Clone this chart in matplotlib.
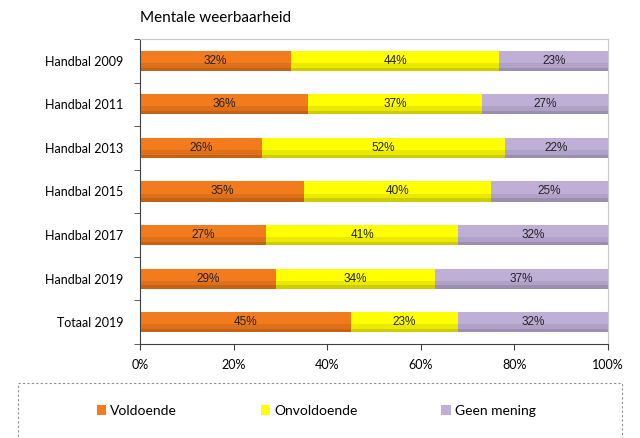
import numpy as np
import matplotlib
matplotlib.use("Agg")
import matplotlib.pyplot as plt
from matplotlib.patches import Rectangle
from matplotlib.ticker import FixedLocator, PercentFormatter

categories = ["Handbal 2009", "Handbal 2011", "Handbal 2013", "Handbal 2015",
              "Handbal 2017", "Handbal 2019", "Totaal 2019"]
voldoende = [32, 36, 26, 35, 27, 29, 45]
onvoldoende = [44, 37, 52, 40, 41, 34, 23]
geen_mening = [23, 27, 22, 25, 32, 37, 32]

series_names = ["Voldoende", "Onvoldoende", "Geen mening"]
colors = ["#F27B1E", "#FFFF00", "#BFAFD6"]
edge_dark = ["#8A4208", "#8C8C00", "#6E6480"]

plt.rcParams["font.family"] = ["Lato", "DejaVu Sans"]

fig = plt.figure(figsize=(6.4, 4.38), dpi=100)
ax = fig.add_axes([140 / 640, 1 - 344 / 438, 468 / 640, 305 / 438])

vals = np.array([voldoende, onvoldoende, geen_mening], dtype=float)
totals = vals.sum(axis=0)
fracs = vals / totals * 100

y = np.arange(len(categories))[::-1]
left = np.zeros(len(categories))
bar_h = 0.46
for i, name in enumerate(series_names):
    ax.barh(y, fracs[i], left=left, height=bar_h, color=colors[i],
            label=name, edgecolor="none")
    # darker lower bands to hint at the gradient shading
    ax.barh(y - bar_h * 0.30, fracs[i], left=left, height=bar_h * 0.40,
            color=edge_dark[i], alpha=0.18, edgecolor="none")
    ax.barh(y - bar_h * 0.42, fracs[i], left=left, height=bar_h * 0.16,
            color=edge_dark[i], alpha=0.3, edgecolor="none")
    for yy, l, f, v in zip(y, left, fracs[i], vals[i]):
        ax.text(l + f / 2, yy, f"{int(v)}%", ha="center", va="center",
                fontsize=8.5, color="#222222",
                family=["Liberation Sans Narrow", "Liberation Sans", "DejaVu Sans"])
    left += fracs[i]

ax.set_xlim(0, 100)
ax.set_ylim(-0.5, len(categories) - 0.5)
ax.set_xticks(np.arange(0, 101, 20))
ax.xaxis.set_major_formatter(PercentFormatter(decimals=0))
ax.set_yticks(y)
ax.set_yticklabels(categories)
ax.yaxis.set_minor_locator(FixedLocator(np.arange(-0.5, len(categories), 1)))
ax.tick_params(axis="y", which="major", length=0, pad=12, labelsize=9)
ax.tick_params(axis="y", which="minor", length=4, color="#404040")
ax.tick_params(axis="x", length=4, pad=7, labelsize=9, color="#404040")

for side in ["top", "right"]:
    ax.spines[side].set_color("#C8C8C8")
for side in ["left", "bottom"]:
    ax.spines[side].set_color("#404040")

fig.text(140 / 640, 1 - 18 / 438, "Mentale weerbaarheid", ha="left", va="center",
         fontsize=11)

# dashed legend frame
fig.patches.append(Rectangle((18 / 640, -0.05), 604 / 640, 0.05 + (438 - 383) / 438,
                             transform=fig.transFigure, fill=False,
                             edgecolor="#909090", linestyle=(0, (2, 2)), linewidth=0.8))
fig.legend(loc="center left", bbox_to_anchor=(84 / 640, 1 - 411 / 438), ncol=3,
           frameon=False, fontsize=10, handlelength=0.7, handleheight=0.7,
           handletextpad=0.3, columnspacing=6.0)

fig.savefig("out.png", dpi=100)
